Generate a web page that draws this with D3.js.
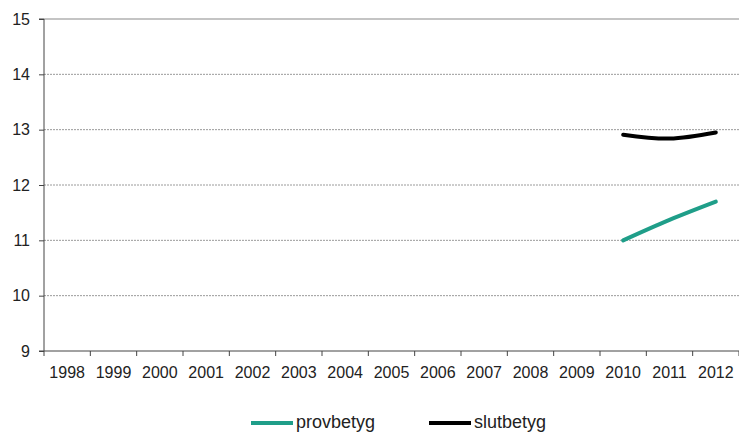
<!DOCTYPE html>
<html><head><meta charset="utf-8">
<script src="https://cdn.jsdelivr.net/npm/d3@7"></script>
<style>body{margin:0;background:#fff;} svg{display:block;font-family:"Liberation Sans",Arial,sans-serif;}</style>
</head><body>
<svg id="c" width="739" height="434"></svg>
<script>
const years = ["1998","1999","2000","2001","2002","2003","2004","2005","2006","2007","2008","2009","2010","2011","2012"];
const yTicks = [9,10,11,12,13,14,15];
const provYears = ["2010","2011","2012"];
const provbetyg = [11.0, 11.37, 11.70];
const slutYears = ["2010","2011","2012"];
const slutbetyg = [12.91, 12.84, 12.95];
const seriesNames = ["provbetyg","slutbetyg"];
const seriesColors = ["#1f9e89","#000000"];

const svg = d3.select("#c");
const L=44, R=739, T=19, B=351;
const x = d3.scaleBand().domain(years).range([L,R]);
const y = d3.scaleLinear().domain([9,15]).range([B,T]);

// gridlines
svg.append("g").selectAll("line").data(yTicks.filter(v=>v>9)).join("line")
  .attr("x1",L).attr("x2",R).attr("y1",d=>y(d)).attr("y2",d=>y(d))
  .attr("stroke",d=>d===15?"#c4c4c4":"#9a9a9a")
  .attr("stroke-width",d=>d===15?2:1)
  .attr("stroke-dasharray",d=>d===15?null:"2,1");

// y axis
const ya = svg.append("g").attr("transform",`translate(${L},0)`)
  .call(d3.axisLeft(y).tickValues(yTicks).tickSize(5).tickPadding(9).tickFormat(d3.format("d")));
ya.select(".domain").attr("stroke","#444").attr("d",`M-5,${B}H0V${T}H-5`);
ya.selectAll(".tick line").attr("stroke","#444");
ya.selectAll("text").attr("font-size",16).attr("fill","#222").attr("font-family","Liberation Sans, Arial, sans-serif");

// x axis
const xa = svg.append("g").attr("transform",`translate(0,${B})`);
xa.append("line").attr("x1",L).attr("x2",R).attr("stroke","#444");
xa.selectAll(".tk").data(years.map(d=>x(d)).concat([R])).join("line")
  .attr("x1",d=>d).attr("x2",d=>d).attr("y1",0).attr("y2",5).attr("stroke","#444");
xa.selectAll("text").data(years).join("text")
  .attr("x",d=>x(d)+x.bandwidth()/2).attr("y",27)
  .attr("text-anchor","middle").attr("font-size",16).attr("fill","#222").text(d=>d);

// lines
const line = d3.line().x(d=>x(d[0])+x.bandwidth()/2).y(d=>y(d[1])).curve(d3.curveCatmullRom.alpha(0.5));
const data = [provYears.map((d,i)=>[d,provbetyg[i]]), slutYears.map((d,i)=>[d,slutbetyg[i]])];
svg.append("g").selectAll("path").data(data).join("path")
  .attr("d",line).attr("fill","none")
  .attr("stroke",(d,i)=>seriesColors[i]).attr("stroke-width",4).attr("stroke-linecap","round");

// legend
const lg = svg.append("g");
const lx = [251, 429];
seriesNames.forEach((n,i)=>{
  lg.append("line").attr("x1",lx[i]).attr("x2",lx[i]+42).attr("y1",423).attr("y2",423)
    .attr("stroke",seriesColors[i]).attr("stroke-width",4);
  lg.append("text").attr("x",lx[i]+45).attr("y",428).attr("font-size",18).attr("fill","#222").text(n);
});
</script>
</body></html>
